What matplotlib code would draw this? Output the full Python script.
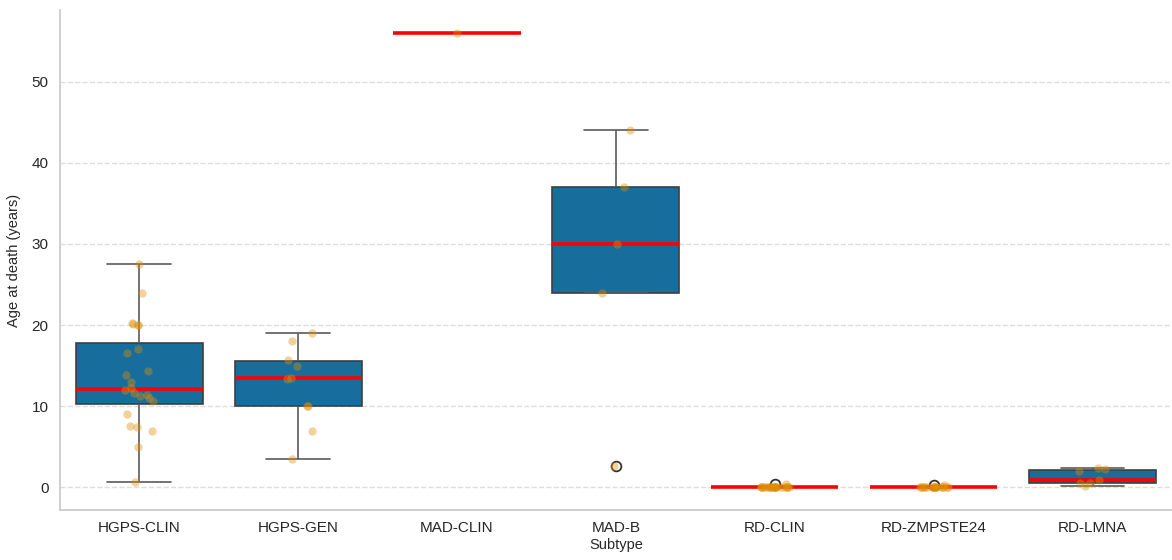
import numpy as np
import pandas as pd
import matplotlib
matplotlib.use("Agg")
import matplotlib.pyplot as plt
import seaborn as sns

SUBTYPES = ["HGPS-CLIN", "HGPS-GEN", "MAD-CLIN", "MAD-B", "RD-CLIN", "RD-ZMPSTE24", "RD-LMNA"]

# age at death (years) per subtype
hgps_clin = [0.7, 5.0, 6.9, 7.5, 7.6, 9.0, 10.7, 11.0, 11.3, 11.4, 11.6, 12.0,
             12.2, 13.0, 13.9, 14.3, 16.5, 17.0, 20.0, 20.0, 20.1, 20.2, 24.0, 27.5]
hgps_gen = [3.5, 7.0, 10.0, 10.0, 13.4, 13.5, 15.0, 15.7, 18.0, 19.0]
mad_clin = [56.0]
mad_b = [2.7, 24.0, 30.0, 37.0, 44.0]
rd_clin = [0.0] * 24 + [0.4]
rd_zmpste24 = [0.0] * 19 + [0.35]
rd_lmna = [0.12, 0.53, 0.55, 0.9, 2.0, 2.3, 2.45]

values = [hgps_clin, hgps_gen, mad_clin, mad_b, rd_clin, rd_zmpste24, rd_lmna]

rows = []
for name, vals in zip(SUBTYPES, values):
    for v in vals:
        rows.append({"Subtype": name, "Age": v})
df = pd.DataFrame(rows)

sns.set_style("whitegrid")
plt.rcParams["font.family"] = ["Liberation Sans", "DejaVu Sans"]

pal = sns.color_palette("colorblind")

fig = plt.figure(figsize=(11.72, 5.6), dpi=100)
ax = fig.add_axes([0.051, 0.089, 0.949, 0.893])

sns.boxplot(data=df, x="Subtype", y="Age", order=SUBTYPES, color=pal[0], width=0.8,
            linecolor="#3f3f3f", linewidth=1.2,
            medianprops={"color": "red", "linewidth": 2.6},
            whiskerprops={"color": "#5a5a5a"}, capprops={"color": "#5a5a5a"},
            flierprops={"marker": "o", "markersize": 7, "markerfacecolor": "white",
                        "markeredgecolor": "#333333", "markeredgewidth": 1.3},
            ax=ax)
sns.stripplot(data=df, x="Subtype", y="Age", order=SUBTYPES, color=pal[1], alpha=0.4,
              size=6, jitter=0.09, ax=ax)

ax.xaxis.grid(False)
ax.yaxis.grid(True, linestyle="--", color="#dddddd", linewidth=1)
ax.set_axisbelow(True)
sns.despine(ax=ax)
for s in ["left", "bottom"]:
    ax.spines[s].set_color("#cccccc")
    ax.spines[s].set_linewidth(1.3)

ax.set_xlim(-0.5, 6.5)
ax.set_xlabel("Subtype", fontsize=10.5, labelpad=2)
ax.set_ylabel("Age at death (years)", fontsize=10.5, labelpad=8)
ax.tick_params(axis="both", labelsize=11, length=0, pad=8)

fig.savefig("out.png", dpi=100)
